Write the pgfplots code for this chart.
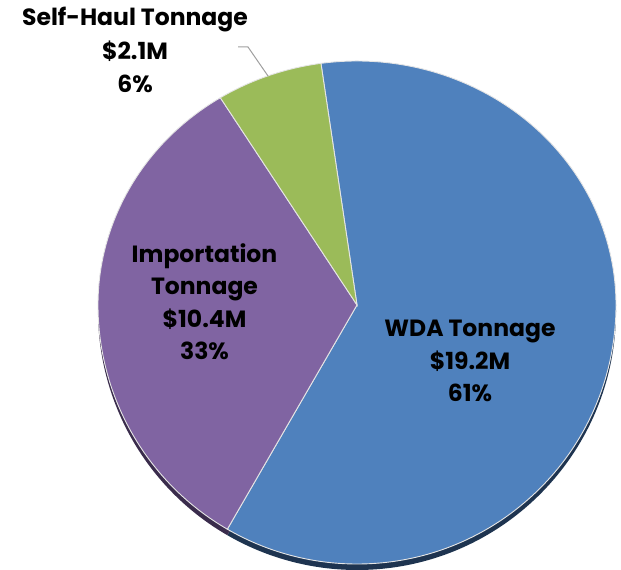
\documentclass[border=0pt]{standalone}
\usepackage{fontspec}
\setmainfont{Poppins}
\usepackage{pgfplots}
\pgfplotsset{compat=1.18}

\definecolor{wda}{HTML}{4F81BD}
\definecolor{imp}{HTML}{8064A2}
\definecolor{shl}{HTML}{9BBB59}
\definecolor{wdadark}{HTML}{1E3450}
\definecolor{impdark}{HTML}{3A2C4C}

\begin{document}
\begin{tikzpicture}
% slice values ($M)
\def\vWDA{19.2}
\def\vIMP{10.4}
\def\vSH{2.1}
\pgfmathsetmacro\tot{\vWDA+\vIMP+\vSH}
\pgfmathsetmacro\aA{98}
\pgfmathsetmacro\aB{\aA-360*\vWDA/\tot}
\pgfmathsetmacro\aC{\aB-360*\vIMP/\tot}
\pgfmathsetmacro\aD{\aA-360}
% slightly tilted pie: far half flatter than near half
\tikzset{
  wdaslice/.style={insert path={-- ++(\aA:259pt and 244pt) arc[start angle=\aA, end angle=0, x radius=259pt, y radius=244pt] arc[start angle=0, end angle=\aB, x radius=259pt, y radius=259pt] -- cycle}},
  impslice/.style={insert path={-- ++(\aB:259pt and 259pt) arc[start angle=\aB, end angle=-180, x radius=259pt, y radius=259pt] arc[start angle=-180, end angle=\aC, x radius=259pt, y radius=244pt] -- cycle}},
  shlslice/.style={insert path={-- ++(\aC:259pt and 244pt) arc[start angle=\aC, end angle=\aD, x radius=259pt, y radius=244pt] -- cycle}},
  rim/.style={draw=white!80!gray, line width=0.9pt},
}
\begin{axis}[
    at={(0,0)}, anchor=south west,
    width=621pt, height=570pt, scale only axis,
    xmin=0, xmax=621, ymin=0, ymax=570,
    hide axis, clip=false,
    ]
    % depth / shadow
    \fill[wdadark] (axis cs:357,259) [wdaslice];
    \fill[impdark] (axis cs:357,259) [impslice];
    % slices
    \filldraw[fill=wda, rim] (axis cs:357,265) [wdaslice];
    \filldraw[fill=imp, rim] (axis cs:357,265) [impslice];
    \filldraw[fill=shl, rim] (axis cs:357,265) [shlslice];
    % leader line
    \draw[gray!75, line width=1pt] (axis cs:238,523) -- (axis cs:248,523) -- (axis cs:268,494);
    % labels
    \begin{scope}[every node/.style={anchor=base, inner sep=0pt, font=\fontsize{23.5}{28}\selectfont\bfseries}]
    \node at (axis cs:135,544) {Self-Haul Tonnage};
    \node at (axis cs:135,510.5) {\$2.1M};
    \node at (axis cs:135,477) {6\%};
    \node at (axis cs:204.5,307) {Importation};
    \node at (axis cs:204.5,275) {Tonnage};
    \node at (axis cs:204.5,242.5) {\$10.4M};
    \node at (axis cs:204.5,210.5) {33\%};
    \node at (axis cs:470,233) {WDA Tonnage};
    \node at (axis cs:470,200.5) {\$19.2M};
    \node at (axis cs:470,168) {61\%};
    \end{scope}
\end{axis}
\pgfresetboundingbox
\useasboundingbox (0,0) rectangle (621pt,570pt);
\end{tikzpicture}
\end{document}
